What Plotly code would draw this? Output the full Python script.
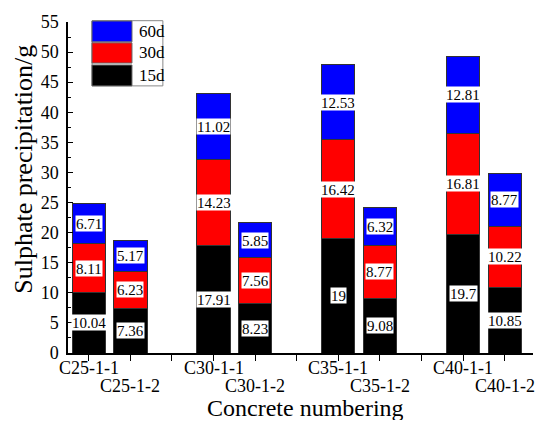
import plotly.graph_objects as go

categories = ["C25-1-1", "C25-1-2", "C30-1-1", "C30-1-2",
              "C35-1-1", "C35-1-2", "C40-1-1", "C40-1-2"]
d15 = [10.04, 7.36, 17.91, 8.23, 19, 9.08, 19.7, 10.85]
d30 = [8.11, 6.23, 14.23, 7.56, 16.42, 8.77, 16.81, 10.22]
d60 = [6.71, 5.17, 11.02, 5.85, 12.53, 6.32, 12.81, 8.77]
series_names = ["15d", "30d", "60d"]
series_values = [d15, d30, d60]
series_colors = ["#000000", "#ff0000", "#0000ff"]

FONT = "Liberation Serif, Times New Roman, serif"

# two bars per grade, one empty slot between grades
xpos = [(i // 2) * 3 + (i % 2) + 1 for i in range(len(categories))]

fig = go.Figure()
for name, vals, col in zip(series_names, series_values, series_colors):
    fig.add_trace(go.Bar(
        x=xpos, y=vals, name=name, width=0.8,
        marker=dict(color=col, line=dict(color="#333333", width=1)),
        showlegend=False, hoverinfo="y"))

annotations = []
# value labels in white boxes at the middle of each segment
for i, x in enumerate(xpos):
    base = 0
    for vals in series_values:
        v = vals[i]
        annotations.append(dict(
            x=x, y=base + v / 2, xref="x", yref="y", text=f"{v:g}",
            showarrow=False, bgcolor="white", borderpad=0, height=15,
            font=dict(family=FONT, size=15, color="black")))
        base += v

# staggered category labels
for i, (x, c) in enumerate(zip(xpos, categories)):
    annotations.append(dict(
        x=x, y=-0.01 if i % 2 == 0 else -0.064, xref="x", yref="paper",
        yanchor="top", text=c, showarrow=False,
        font=dict(family=FONT, size=18, color="black")))

# axis titles
annotations.append(dict(x=0.51, y=-0.2054, xref="paper", yref="paper",
                        text="Concrete numbering", showarrow=False,
                        yanchor="bottom", height=24, borderpad=0,
                        font=dict(family=FONT, size=24, color="black")))
annotations.append(dict(x=-0.095, y=0.556, xref="paper", yref="paper",
                        text="Sulphate precipitation/g", showarrow=False,
                        textangle=-90, xanchor="center", yanchor="middle",
                        font=dict(family=FONT, size=26, color="black")))

# custom legend (large swatches)
shapes = []
leg_x0, leg_x1, sw_x1 = 0.0516, 0.204, 0.1376
rows = [("60d", "#0000ff", 1.003, 0.940),
        ("30d", "#ff0000", 0.937, 0.876),
        ("15d", "#000000", 0.870, 0.807)]
shapes.append(dict(type="rect", xref="paper", yref="paper",
                   x0=leg_x0, x1=leg_x1, y0=0.807, y1=1.004,
                   line=dict(color="#888888", width=1), fillcolor="white"))
for name, col, y1, y0 in rows:
    shapes.append(dict(type="rect", xref="paper", yref="paper",
                       x0=leg_x0, x1=sw_x1, y0=y0, y1=y1,
                       line=dict(color="#666666", width=1), fillcolor=col))
    annotations.append(dict(x=0.148, y=(y0 + y1) / 2, xref="paper",
                            yref="paper", text=name, showarrow=False,
                            xanchor="left", yanchor="middle",
                            font=dict(family=FONT, size=17, color="black")))

fig.update_layout(
    width=535, height=421,
    margin=dict(l=68, r=2, t=22, b=68),
    paper_bgcolor="white", plot_bgcolor="white",
    barmode="stack", bargap=0.2,
    font=dict(family=FONT, size=18, color="black"),
    annotations=annotations, shapes=shapes,
    xaxis=dict(range=[0.5, 11.68], tickmode="linear", tick0=1, dtick=1,
               ticks="outside", ticklen=6, tickcolor="black",
               showticklabels=False, showgrid=False, zeroline=False,
               showline=True, linecolor="black", linewidth=1.5),
    yaxis=dict(range=[0, 55], tickmode="linear", tick0=0, dtick=5,
               ticks="inside", ticklen=5, tickcolor="black",
               minor=dict(dtick=2.5, ticks="inside", ticklen=3,
                          tickcolor="black"),
               showgrid=False, zeroline=False, showline=True,
               linecolor="black", linewidth=1.5,
               tickfont=dict(family=FONT, size=18, color="black"),
               ticklabelstandoff=4),
)

fig.write_html("out.html", config={"displayModeBar": False},
               post_script="document.body.style.margin='0';"
                           "document.body.style.overflow='hidden';")
